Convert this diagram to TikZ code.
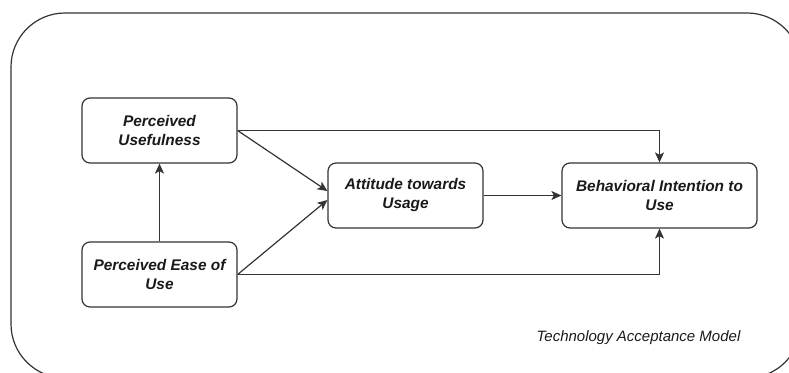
\documentclass[tikz,border=0pt]{standalone}
\usepackage{fontspec}
\setmainfont{Liberation Sans}
\usetikzlibrary{arrows.meta}
\definecolor{linecol}{HTML}{333333}
\definecolor{txtcol}{HTML}{1A1A1A}
\tikzset{
  stagebox/.style={draw=linecol, line width=1.2pt, rounded corners=8pt, fill=white,
    minimum width=155pt, minimum height=65pt, align=center, inner sep=2pt,
    text=txtcol, font=\fontsize{15.4}{19}\selectfont\bfseries\itshape},
  arr/.style={draw=linecol, line width=1.2pt, -{Stealth[length=10pt,width=9pt,inset=2.5pt]}},
  container/.style={draw=linecol, line width=1.2pt, rounded corners=54pt},
  caption/.style={text=txtcol, font=\fontsize{15}{18}\selectfont\itshape}
}
\begin{document}
\begin{tikzpicture}[x=1pt,y=-1pt]
\useasboundingbox (0,0) rectangle (789,372);
\clip (0,0) rectangle (789,372);
\draw[container] (11,13) rectangle (801,378);
\node[stagebox] (PU) at (159.5,130.5) {Perceived\\Usefulness};
\node[stagebox] (PEU) at (159.5,274.5) {Perceived Ease of\\Use};
\node[stagebox] (ATU) at (405.5,195.5) {Attitude towards\\Usage};
\node[stagebox, minimum width=195pt] (BI) at (659.5,195.5) {Behavioral Intention to\\Use};
\node[caption] (cap) at (638.5,338) {Technology Acceptance Model};
\draw[arr] (PU.east) -| (BI.north);
\draw[arr] (PEU.east) -| (BI.south);
\draw[arr] (PU.east) -- ([yshift=4.5pt]ATU.west);
\draw[arr] (PEU.east) -- ([yshift=-4.5pt]ATU.west);
\draw[arr] (PEU.north) -- (PU.south);
\draw[arr] (ATU.east) -- (BI.west);
\end{tikzpicture}
\end{document}
